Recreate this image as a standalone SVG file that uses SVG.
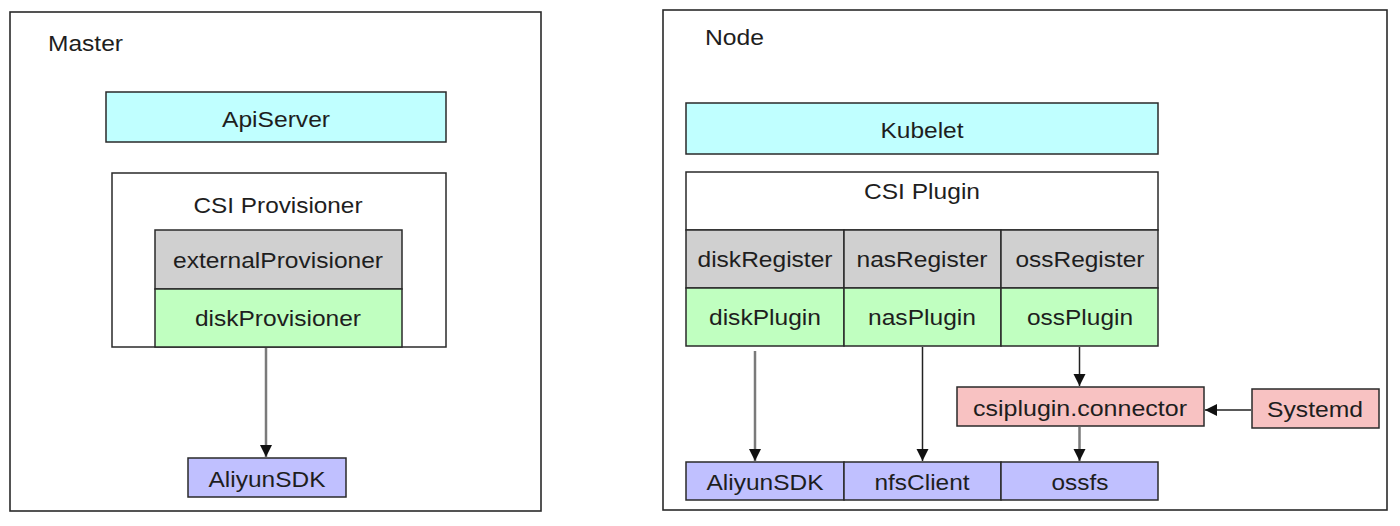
<svg xmlns="http://www.w3.org/2000/svg" width="1400" height="526" viewBox="0 0 1400 526">
<style>
text{font-family:"Liberation Sans",Arial,Helvetica,sans-serif;font-size:22px;fill:#1e1e1e;text-anchor:middle}
text.lbl{text-anchor:start}
.frame{fill:#fff;stroke:#2a2a2a;stroke-width:1.6}
.box{stroke:#2a2a2a;stroke-width:1.5}
.cyan{fill:#c0ffff}
.gray{fill:#d0d0d0}
.green{fill:#c0ffc0}
.blue{fill:#c0c0ff}
.pink{fill:#f8c2c2}
.white{fill:#fff}
.ln{fill:none;stroke:#222;stroke-width:1.5}
.lg{fill:none;stroke:#7a7a7a;stroke-width:2.5}
</style>
<defs>
<marker id="ah" markerUnits="userSpaceOnUse" markerWidth="12" markerHeight="14" viewBox="0 0 12 14" refX="12" refY="7" orient="auto">
<path d="M0,1 L12,7 L0,13 Z" fill="#111"/>
</marker>
</defs>
<rect width="1400" height="526" fill="#fff"/>

<g id="master">
<rect class="frame" x="10" y="12" width="531" height="499"/>
<text class="lbl" x="48" y="51" textLength="75" lengthAdjust="spacingAndGlyphs">Master</text>
</g>
<g id="apiserver">
<rect class="box cyan" x="106" y="92" width="340" height="50"/>
<text x="276" y="127" textLength="108" lengthAdjust="spacingAndGlyphs">ApiServer</text>
</g>
<g id="csi-provisioner">
<rect class="box white" x="112" y="173" width="334" height="174"/>
<text x="278" y="213" textLength="169" lengthAdjust="spacingAndGlyphs">CSI Provisioner</text>
</g>
<g id="externalProvisioner">
<rect class="box gray" x="155" y="230" width="247" height="59"/>
<text x="278" y="268" textLength="210" lengthAdjust="spacingAndGlyphs">externalProvisioner</text>
</g>
<g id="diskProvisioner">
<rect class="box green" x="155" y="289" width="247" height="58"/>
<text x="278" y="326" textLength="166" lengthAdjust="spacingAndGlyphs">diskProvisioner</text>
</g>
<g id="aliyunsdk-master">
<rect class="box blue" x="188" y="458" width="158" height="39"/>
<text x="267" y="487" textLength="117" lengthAdjust="spacingAndGlyphs">AliyunSDK</text>
</g>

<g id="node">
<rect class="frame" x="663" y="10" width="724" height="500"/>
<text class="lbl" x="705" y="45" textLength="59" lengthAdjust="spacingAndGlyphs">Node</text>
</g>
<g id="kubelet">
<rect class="box cyan" x="686" y="103" width="472" height="51"/>
<text x="922" y="138" textLength="83" lengthAdjust="spacingAndGlyphs">Kubelet</text>
</g>
<g id="csi-plugin">
<rect class="box white" x="686" y="172" width="472" height="58"/>
<text x="922" y="199" textLength="116" lengthAdjust="spacingAndGlyphs">CSI Plugin</text>
</g>
<g id="diskRegister">
<rect class="box gray" x="686" y="230" width="158" height="58"/>
<text x="765" y="267" textLength="135" lengthAdjust="spacingAndGlyphs">diskRegister</text>
</g>
<g id="nasRegister">
<rect class="box gray" x="844" y="230" width="157" height="58"/>
<text x="922" y="267" textLength="131" lengthAdjust="spacingAndGlyphs">nasRegister</text>
</g>
<g id="ossRegister">
<rect class="box gray" x="1001" y="230" width="157" height="58"/>
<text x="1080" y="267" textLength="129" lengthAdjust="spacingAndGlyphs">ossRegister</text>
</g>
<g id="diskPlugin">
<rect class="box green" x="686" y="288" width="158" height="58"/>
<text x="765" y="325" textLength="112" lengthAdjust="spacingAndGlyphs">diskPlugin</text>
</g>
<g id="nasPlugin">
<rect class="box green" x="844" y="288" width="157" height="58"/>
<text x="922" y="325" textLength="108" lengthAdjust="spacingAndGlyphs">nasPlugin</text>
</g>
<g id="ossPlugin">
<rect class="box green" x="1001" y="288" width="157" height="58"/>
<text x="1080" y="325" textLength="106" lengthAdjust="spacingAndGlyphs">ossPlugin</text>
</g>
<g id="connector">
<rect class="box pink" x="957" y="387" width="247" height="39"/>
<text x="1080" y="416" textLength="214" lengthAdjust="spacingAndGlyphs">csiplugin.connector</text>
</g>
<g id="systemd">
<rect class="box pink" x="1252" y="389" width="127" height="39"/>
<text x="1315" y="417" textLength="96" lengthAdjust="spacingAndGlyphs">Systemd</text>
</g>
<g id="aliyunsdk-node">
<rect class="box blue" x="686" y="462" width="158" height="38"/>
<text x="765" y="490" textLength="117" lengthAdjust="spacingAndGlyphs">AliyunSDK</text>
</g>
<g id="nfsClient">
<rect class="box blue" x="844" y="462" width="157" height="38"/>
<text x="922" y="490" textLength="95" lengthAdjust="spacingAndGlyphs">nfsClient</text>
</g>
<g id="ossfs">
<rect class="box blue" x="1001" y="462" width="157" height="38"/>
<text x="1080" y="490" textLength="57" lengthAdjust="spacingAndGlyphs">ossfs</text>
</g>

<g id="connectors">
<path class="lg" d="M266,348 V457" marker-end="url(#ah)"/>
<path class="lg" d="M755,351 V461" marker-end="url(#ah)"/>
<path class="ln" d="M922.5,347 V461" marker-end="url(#ah)"/>
<path class="ln" d="M1079.5,347 V386" marker-end="url(#ah)"/>
<path class="lg" d="M1079.5,427 V461" marker-end="url(#ah)"/>
<path class="ln" d="M1251,410 H1205" marker-end="url(#ah)"/>
</g>
</svg>
